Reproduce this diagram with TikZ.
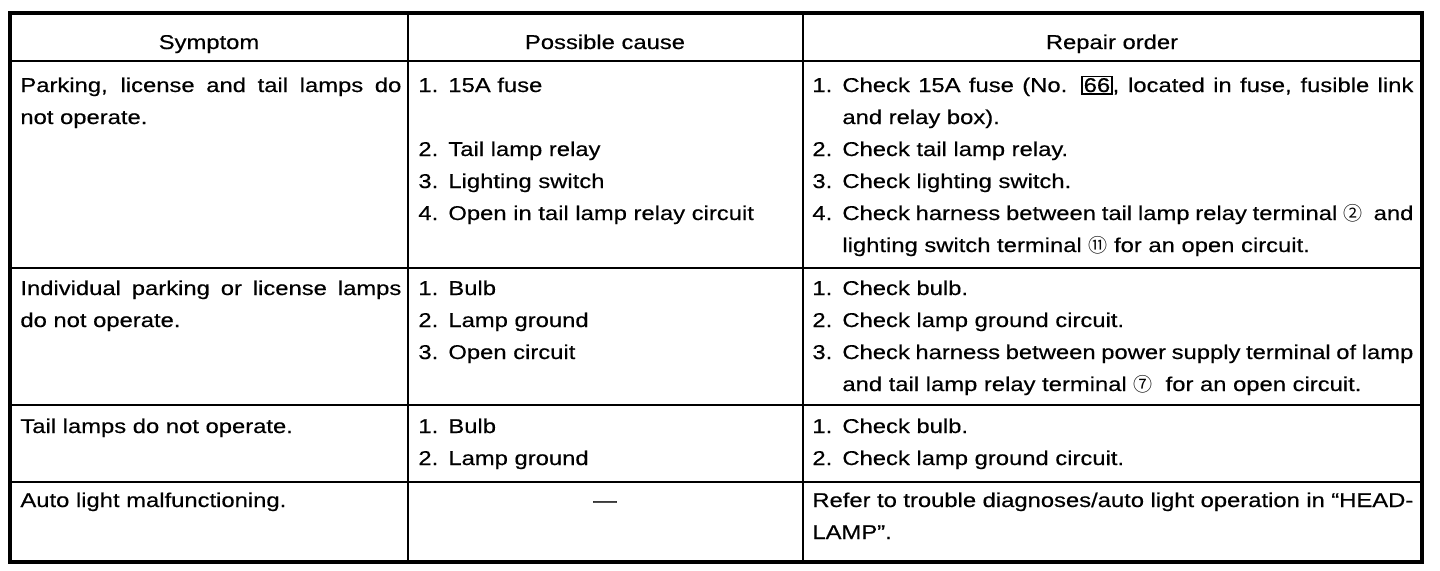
\documentclass[tikz,border=0pt]{standalone}
\usepackage{fontspec}
\setmainfont{Liberation Sans}[FakeStretch=1.19, FakeBold=0.4]
\newfontfamily\circfont{Noto Sans CJK JP}[Scale=0.95]
\usetikzlibrary{positioning}
\newcommand\numitem[2]{\hangindent=15pt\hangafter=1\noindent\makebox[15pt][l]{#1}#2\par}
\newcommand\circnum[1]{{\circfont #1}}
\newcommand\fusebox[1]{{\setlength\fboxsep{0.6pt}\setlength\fboxrule{0.6pt}\fbox{#1}}}

\begin{document}
\begin{tikzpicture}[x=0.5pt, y=-0.5pt,
	every node/.style={inner sep=0pt, font=\fontsize{10}{16}\selectfont},
	cell/.style={anchor=base west, align=justify, text width=#1},
	head/.style={anchor=base},
	rule/.style={line width=1pt},
	frame/.style={line width=1.8pt}]
			%%%%% START %%%%%
			\useasboundingbox (0, 0) rectangle (1440, 570);
			
			\draw[frame] (10, 13) rectangle (1422, 562);
			\draw[rule] (10, 61) -- (1422, 61);
			\draw[rule] (10, 268) -- (1422, 268);
			\draw[rule] (10, 405) -- (1422, 405);
			\draw[rule] (10, 482) -- (1422, 482);
			\draw[rule] (408, 13) -- (408, 562);
			\draw[rule] (803, 13) -- (803, 562);
			
			\node[head] (symptom) at (209, 49) {Symptom};
			\node[head] (cause) at (605, 49) {Possible cause};
			\node[head] (repair) at (1112, 49) {Repair order};
			
			% parking, license and tail lamps
			\node[cell=190.5pt] (sym1) at (20, 92) {Parking, license and tail lamps do\linebreak not operate.};
			\node[cell=186pt] (cause1a) at (418, 92) {\numitem{1.}{15A fuse}};
			\node[cell=186pt] (cause1b) at (418, 156) {\numitem{2.}{Tail lamp relay}
				\numitem{3.}{Lighting switch}
				\numitem{4.}{Open in tail lamp relay circuit}};
			\node[cell=300.5pt] (rep1) at (812, 92) {\numitem{1.}{Check 15A fuse (No. \fusebox{66}, located in fuse, fusible link\linebreak and relay box).}
				\numitem{2.}{Check tail lamp relay.}
				\numitem{3.}{Check lighting switch.}
				\numitem{4.}{Check harness between tail lamp relay terminal \circnum{②}\ \ and\linebreak lighting switch terminal \circnum{⑪} for an open circuit.}};
			
			% individual lamps
			\node[cell=190.5pt] (sym2) at (20, 295) {Individual parking or license lamps\linebreak do not operate.};
			\node[cell=186pt] (cause2) at (418, 295) {\numitem{1.}{Bulb}
				\numitem{2.}{Lamp ground}
				\numitem{3.}{Open circuit}};
			\node[cell=300.5pt] (rep2) at (812, 295) {\numitem{1.}{Check bulb.}
				\numitem{2.}{Check lamp ground circuit.}
				\numitem{3.}{Check harness between power supply terminal of lamp\linebreak and tail lamp relay terminal \circnum{⑦}\ \ for an open circuit.}};
			
			% tail lamps
			\node[cell=190.5pt] (sym3) at (20, 433) {Tail lamps do not operate.};
			\node[cell=186pt] (cause3) at (418, 433) {\numitem{1.}{Bulb}
				\numitem{2.}{Lamp ground}};
			\node[cell=300.5pt] (rep3) at (812, 433) {\numitem{1.}{Check bulb.}
				\numitem{2.}{Check lamp ground circuit.}};
			
			% auto light
			\node[cell=190.5pt] (sym4) at (20, 507) {Auto light malfunctioning.};
			\node[head] (cause4) at (605, 507) {---};
			\node[cell=300.5pt] (rep4) at (812, 507) {Refer to trouble diagnoses/auto light operation in ``HEAD-\linebreak LAMP''.};
			
			%%%%% END %%%%%
\end{tikzpicture}
\end{document}
